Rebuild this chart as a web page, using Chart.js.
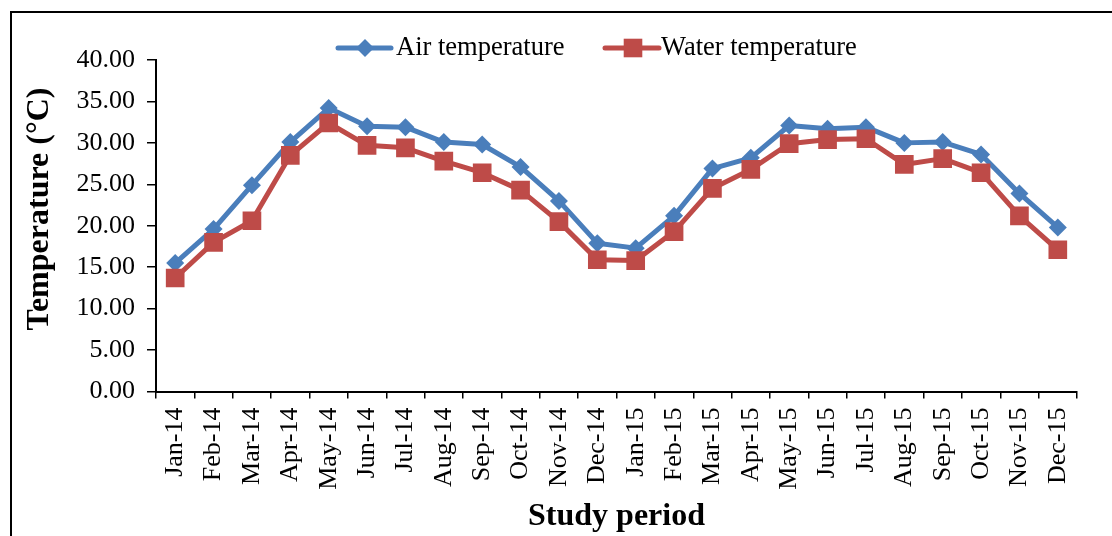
<!DOCTYPE html>
<html>
<head>
<meta charset="utf-8">
<script src="https://cdn.jsdelivr.net/npm/chart.js@4.4.1/dist/chart.umd.min.js"></script>
<style>
  html, body { margin: 0; padding: 0; background: #fff; overflow: hidden; }
  #wrap { position: relative; width: 1112px; height: 536px; }
  #frame { position: absolute; left: 10px; top: 11px; width: 2000px; height: 2000px;
           border-top: 2px solid #000; border-left: 2px solid #000; }
  #cv { position: absolute; left: 0; top: 0; }
</style>
</head>
<body>
<div id="wrap">
  <div id="frame"></div>
  <canvas id="cv" width="1112" height="536"></canvas>
</div>
<script>
const categories = ['Jan-14','Feb-14','Mar-14','Apr-14','May-14','Jun-14','Jul-14','Aug-14','Sep-14','Oct-14','Nov-14','Dec-14',
                    'Jan-15','Feb-15','Mar-15','Apr-15','May-15','Jun-15','Jul-15','Aug-15','Sep-15','Oct-15','Nov-15','Dec-15'];
const airTemperature = [15.5, 19.6, 24.9, 30.1, 34.2, 32.0, 31.9, 30.1, 29.8, 27.1, 23.0, 17.9,
                        17.3, 21.2, 26.9, 28.2, 32.1, 31.7, 31.9, 30.0, 30.1, 28.6, 23.9, 19.8];
const waterTemperature = [13.7, 18.0, 20.6, 28.5, 32.4, 29.7, 29.4, 27.8, 26.4, 24.3, 20.5, 15.9,
                          15.8, 19.3, 24.5, 26.8, 29.9, 30.4, 30.5, 27.4, 28.1, 26.4, 21.2, 17.1];
const seriesNames = ['Air temperature', 'Water temperature'];
const yTitle = 'Temperature (°C)';
const xTitle = 'Study period';
const yMin = 0, yMax = 40, yStep = 5;

const BLUE = '#4A7EBB';
const RED = '#BE4B48';
const SERIF = "'Liberation Serif', 'Times New Roman', serif";

function drawMarker(ctx, style, x, y, color) {
  ctx.save();
  ctx.fillStyle = color;
  ctx.beginPath();
  if (style === 'rectRot') {
    const r = 9;
    ctx.moveTo(x - r, y); ctx.lineTo(x, y - r); ctx.lineTo(x + r, y); ctx.lineTo(x, y + r);
  } else {
    const h = 9.3;
    ctx.rect(x - h, y - h, 2 * h, 2 * h);
  }
  ctx.closePath();
  ctx.fill();
  ctx.restore();
}

const customPlugin = {
  id: 'customDecor',
  afterDraw(chart) {
    const ctx = chart.ctx;
    const items = [
      { x0: 338, x1: 391, mx: 365, tx: 396, color: BLUE, style: 'rectRot', text: seriesNames[0] },
      { x0: 605, x1: 659, mx: 633, tx: 661, color: RED, style: 'rect', text: seriesNames[1] }
    ];
    const ly = 48;
    items.forEach(it => {
      ctx.save();
      ctx.strokeStyle = it.color;
      ctx.lineWidth = 5;
      ctx.lineCap = 'round';
      ctx.beginPath();
      ctx.moveTo(it.x0, ly); ctx.lineTo(it.x1, ly);
      ctx.stroke();
      ctx.restore();
      drawMarker(ctx, it.style, it.mx, ly, it.color);
      ctx.save();
      ctx.fillStyle = '#000';
      ctx.font = '26.5px ' + SERIF;
      ctx.textAlign = 'left';
      ctx.textBaseline = 'middle';
      ctx.fillText(it.text, it.tx, ly);
      ctx.restore();
    });
    ctx.save();
    ctx.translate(40, 209);
    ctx.rotate(-Math.PI / 2);
    ctx.fillStyle = '#000';
    ctx.font = 'bold 32px ' + SERIF;
    ctx.textAlign = 'center';
    ctx.textBaseline = 'middle';
    ctx.fillText(yTitle, 0, 0);
    ctx.restore();
  }
};

new Chart(document.getElementById('cv'), {
  type: 'line',
  data: {
    labels: categories,
    datasets: [
      {
        label: seriesNames[0], data: airTemperature, order: 1,
        borderColor: BLUE, backgroundColor: BLUE, borderWidth: 5,
        pointStyle: 'rectRot', pointRadius: 9, pointBorderWidth: 0,
        pointBackgroundColor: BLUE, pointBorderColor: BLUE,
        tension: 0, borderJoinStyle: 'round', borderCapStyle: 'round', fill: false
      },
      {
        label: seriesNames[1], data: waterTemperature, order: 0,
        borderColor: RED, backgroundColor: RED, borderWidth: 5,
        pointStyle: 'rect', pointRadius: 13.2, pointBorderWidth: 0,
        pointBackgroundColor: RED, pointBorderColor: RED,
        tension: 0, borderJoinStyle: 'round', borderCapStyle: 'round', fill: false
      }
    ]
  },
  options: {
    responsive: false,
    animation: false,
    events: [],
    layout: { padding: { left: 0, top: 60, right: 35, bottom: 0 } },
    plugins: {
      legend: { display: false },
      tooltip: { enabled: false },
      title: { display: false }
    },
    scales: {
      x: {
        type: 'category',
        offset: true,
        grid: { offset: true, drawOnChartArea: false, drawTicks: true, tickLength: 7, color: '#000', lineWidth: 1.5 },
        border: { display: true, color: '#000', width: 2 },
        ticks: {
          color: '#000', font: { family: SERIF, size: 26 },
          minRotation: 90, maxRotation: 90, padding: 9, autoSkip: false
        },
        title: {
          display: true, text: xTitle, color: '#000',
          font: { family: SERIF, size: 32, weight: 'bold' },
          padding: { top: 0, bottom: 0 }
        },
        afterFit(scale) { scale.height = 536 - 391.5; }
      },
      y: {
        min: yMin, max: yMax,
        grid: { drawOnChartArea: false, drawTicks: true, tickLength: 9, color: '#000', lineWidth: 1.5 },
        border: { display: true, color: '#000', width: 2 },
        ticks: {
          stepSize: yStep, color: '#000', font: { family: SERIF, size: 26 }, padding: 12,
          callback: v => Number(v).toFixed(2)
        },
        afterFit(scale) { scale.width = 156; }
      }
    }
  },
  plugins: [customPlugin]
});
</script>
</body>
</html>
